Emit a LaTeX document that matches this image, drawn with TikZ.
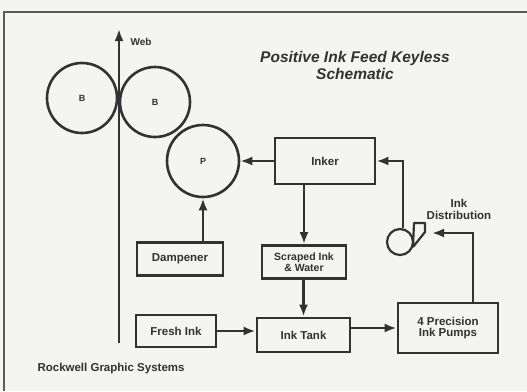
\documentclass[tikz,border=0pt]{standalone}
\usepackage{fontspec}
\setmainfont{Liberation Sans}
\usepackage{xcolor}
\usepackage{tikz}
\usetikzlibrary{positioning,arrows.meta}
\definecolor{ink}{RGB}{50, 50, 50}
\definecolor{paper}{RGB}{244, 244, 241}

\tikzset{
  block/.style={draw=ink, line width=2.8pt, minimum height=33pt, inner sep=2pt,
    align=center, font=\fontsize{11.5}{12}\selectfont\bfseries, text=ink},
  roller/.style={draw=ink, circle, line width=2.6pt, minimum size=70pt, inner sep=0pt,
    font=\fontsize{9}{9}\selectfont\bfseries, text=ink},
  arr/.style={draw=ink, line width=2.6pt, -{Latex[length=12pt,width=9pt]}},
  lbl/.style={align=center, text=ink, font=\fontsize{11.5}{12}\selectfont\bfseries}
}

\begin{document}
\begin{tikzpicture}[x=1pt, y=-1pt]
% Page and frame
\fill[paper] (0,0) rectangle (527,391);
\useasboundingbox (0,0) rectangle (527,391);
\draw[ink!80, line width=1.6pt] (4,391) -- (4,12) -- (527,12);

% Title
\node[lbl, font=\fontsize{15.5}{17}\selectfont\bfseries\itshape] (title) at (355,65)
  {Positive Ink Feed Keyless\\Schematic};

% Web
\coordinate (webbot) at (119,343);
\coordinate (webtop) at (119,29);
\draw[arr] (webbot) -- (webtop);
\node[lbl, font=\fontsize{10}{11}\selectfont\bfseries, right=8pt of webtop, yshift=-13pt] (web) {Web};

% Rollers
\node[roller] (b1) at (82,98) {B};
\node[roller] (b2) at (155,102) {B};
\node[roller, minimum size=72pt] (p) at (203,161) {P};

% Blocks
\node[block, minimum width=100pt, minimum height=46pt] (inker) at (325,161) {Inker};
\node[block, minimum width=86pt] (damp) at (180,259) {Dampener};
\node[block, minimum width=84pt, minimum height=33pt, font=\fontsize{10.5}{10.5}\selectfont\bfseries] (scraped) at (304,262) {Scraped Ink\\\& Water};
\node[block, minimum width=80pt, minimum height=32pt] (fresh) at (176,331) {Fresh Ink};
\node[block, minimum width=93pt, minimum height=34pt] (tank) at (303.5,335) {Ink Tank};
\node[block, minimum width=100pt, minimum height=50pt, font=\fontsize{11.5}{11.5}\selectfont\bfseries] (pumps) at (448,328) {4 Precision\\Ink Pumps};

% Ink distribution
\node[draw=ink, circle, line width=2.2pt, minimum size=26pt, inner sep=0pt] (dist) at (400,242) {};
\draw[ink, line width=2.2pt, line join=round] (413,246) -- (414,223) -- (425,223) -- (425,232) -- (413,247);
\node[lbl] (distlbl) at (459,209) {Ink\\Distribution};
\coordinate (nozzle) at (432,233);

% Connectors
\draw[arr] (inker.west) -- (p.east);
\draw[arr] (damp.north -| p.south) -- (p.south);
\draw[arr] (inker.south -| scraped.north) -- (scraped.north);
\draw[arr] (scraped.south -| tank.north) -- (tank.north);
\draw[arr] (fresh.east) -- (fresh.east -| tank.west);
\draw[arr] (tank.east |- pumps.west) -- (pumps.west);
\draw[arr] ([xshift=25pt]pumps.north) |- (nozzle);
\draw[arr] ([xshift=3pt]dist.north) |- (inker.east);

% Credit
\node[lbl, anchor=west] (credit) at (34,369) {Rockwell Graphic Systems};
\end{tikzpicture}
\end{document}
